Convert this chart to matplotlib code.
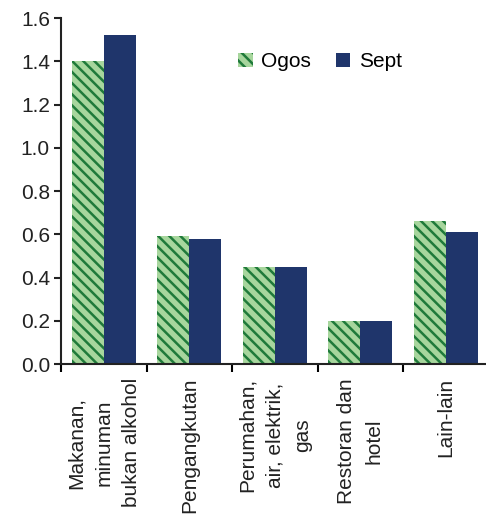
import matplotlib
matplotlib.use("Agg")
import matplotlib.pyplot as plt
import numpy as np

plt.rcParams['font.family'] = ['Liberation Sans', 'DejaVu Sans']
plt.rcParams['hatch.linewidth'] = 1.8

# data
categories = ["Makanan,\nminuman\nbukan alkohol", "Pengangkutan",
              "Perumahan,\nair, elektrik,\ngas", "Restoran dan\nhotel", "Lain-lain"]
ogos = [1.40, 0.59, 0.45, 0.20, 0.66]
sept = [1.52, 0.58, 0.45, 0.20, 0.61]
yticks = [0.0, 0.2, 0.4, 0.6, 0.8, 1.0, 1.2, 1.4, 1.6]

light_green = "#a7d69d"
dark_green = "#1f7a3a"
navy = "#1f356b"

fig = plt.figure(figsize=(4.86, 5.15), dpi=100)
ax = fig.add_axes([0.1255, 0.293, 0.88, 0.672])

x = np.arange(len(categories))
w = 0.375
ax.bar(x - w / 2, ogos, w, facecolor=light_green, edgecolor=dark_green,
       hatch="\\\\\\", linewidth=0, label="Ogos")
ax.bar(x + w / 2, sept, w, color=navy, linewidth=0, label="Sept")

ax.set_xlim(-0.5, 4.5)
ax.set_ylim(0, 1.6)
ax.set_yticks(yticks)
ax.set_yticklabels([f"{v:.1f}" for v in yticks])

ax.set_xticks(x)
ax.set_xticklabels(categories, rotation=90, va="top", ha="center",
                   multialignment="center", linespacing=1.6)
ax.set_xticks(np.arange(-0.5, 4.0, 1.0), minor=True)
ax.tick_params(axis="x", which="major", length=0, pad=10)
ax.tick_params(axis="x", which="minor", length=6, width=1.5, direction="out")
ax.tick_params(axis="y", length=5, width=1.5, direction="out", pad=3)
ax.tick_params(labelsize=15, colors="#222222")

for s in ["top", "right"]:
    ax.spines[s].set_visible(False)
for s in ["left", "bottom"]:
    ax.spines[s].set_linewidth(1.5)
    ax.spines[s].set_color("#222222")

ax.legend(loc="upper left", bbox_to_anchor=(0.37, 0.955), ncol=2, frameon=False,
          fontsize=15, handlelength=0.7, handleheight=0.7, handletextpad=0.4,
          columnspacing=1.2)

fig.savefig("out.png", dpi=100)
